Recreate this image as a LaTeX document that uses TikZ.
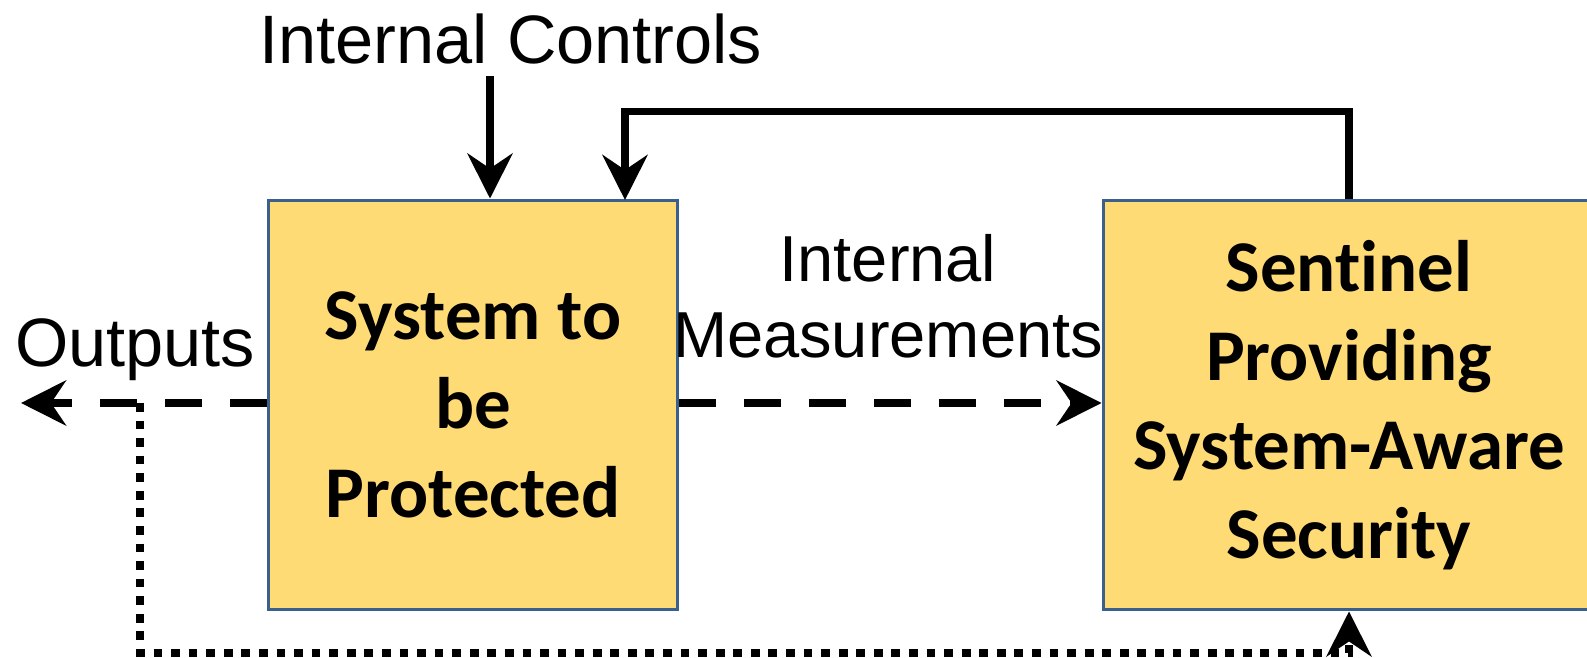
\documentclass[tikz,border=0pt]{standalone}
\usepackage{fontspec}
\setmainfont{Liberation Sans}
\newfontfamily\boxfont[Ligatures=NoCommon]{Carlito}
\usepackage{xcolor}
\usetikzlibrary{positioning,calc,arrows.meta}
\definecolor{boxfill}{RGB}{255,219,118}
\definecolor{boxline}{RGB}{60,96,140}
\tikzset{
	block/.style={draw=boxline, line width=1.7pt, fill=boxfill, align=center,
		font=\boxfont\bfseries\fontsize{41.5}{50.6}\selectfont},
	label/.style={align=center, font=\fontsize{39}{43}\selectfont},
	arr/.style={line width=4.5pt, -{Stealth[length=0.9cm,width=0.9cm,inset=0.3cm]}},
	dashline/.style={arr, line width=5pt, dash pattern=on 21pt off 16pt},
	dotline/.style={arr, line width=5pt, dash pattern=on 5pt off 5pt}
}
\begin{document}
\begin{tikzpicture}[x=0.02cm, y=-0.02cm]
		\useasboundingbox (0,0) rectangle (1587,658);
		\node[block, minimum width=8.2cm, minimum height=8.2cm] (sys) at (473,405) {System to\\be\\Protected};
		\node[block, minimum width=9.84cm, minimum height=8.2cm] (sentinel) at (1349,405) {Sentinel\\Providing\\System-Aware\\Security};
		\node[label] (controls) at (511,39) {Internal Controls};
		\node[label] (outputs) at (135,350) {Outputs};
		\node[label, font=\fontsize{37}{43}\selectfont] (meas) at (888,296) {Internal\\Measurements};
		\coordinate (ctl) at (490,76);
		\coordinate (fbin) at (625,200);
		\coordinate (outend) at (21,403);
		\coordinate (tap) at (140,403);
		% controls into the system
		\draw[arr] (ctl) -- (ctl |- sys.north);
		% feedback from the sentinel
		\draw[arr] (sentinel.north) -- ++(0,-87) -| (fbin);
		% measurements and outputs
		\draw[dashline] (sys.east |- tap) -- (sentinel.west |- tap);
		\draw[dashline] (sys.west |- tap) -- (outend);
		\draw[dotline] (tap) -- (140,653) -| (sentinel.south);
	\end{tikzpicture}
\end{document}
